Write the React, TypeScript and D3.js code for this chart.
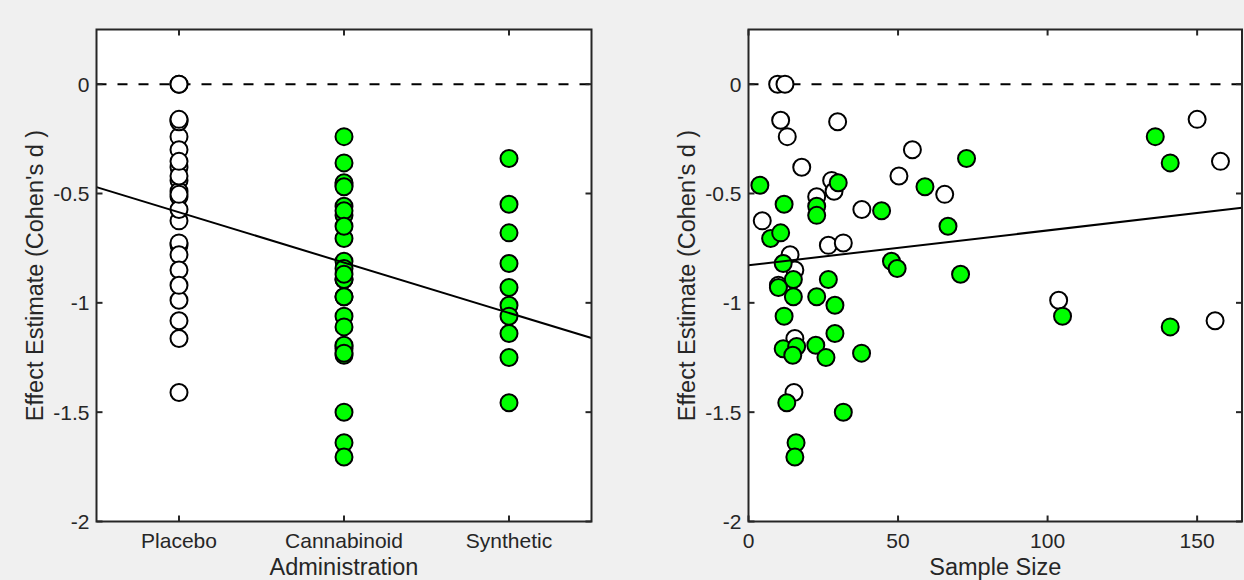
import React, { useEffect, useRef } from 'react';
import * as d3 from 'd3';

// groups on the left panel
const categories = ['Placebo', 'Cannabinoid', 'Synthetic'];
const yTicks = [0, -0.5, -1, -1.5, -2];
const yTickLabels = ['0', '-0.5', '-1', '-1.5', '-2'];
const sizeTicks = [0, 50, 100, 150];

// sample size / effect estimate per study
const placeboN = [9.75, 12.2, 10.75, 12.96, 29.8, 17.8, 4.6, 27.8, 28.6, 22.8, 37.9, 50.3, 26.7, 31.7, 13.9, 15.5, 15.5, 15.2, 54.8, 65.6, 103.7, 150, 157.8, 156, 10];
const placeboD = [0, 0, -0.165, -0.24, -0.172, -0.38, -0.625, -0.44, -0.49, -0.515, -0.573, -0.42, -0.737, -0.726, -0.78, -0.85, -1.163, -1.41, -0.3, -0.504, -0.988, -0.161, -0.353, -1.082, -0.92];

const cannabinoidN = [3.8, 30, 22.8, 22.8, 44.5, 7.4, 47.8, 49.7, 15, 15, 26.7, 22.8, 11.6, 16.1, 14.8, 22.5, 37.8, 31.7, 15.9, 15.5, 59, 66.7, 70.9, 105, 136, 141, 141];
const cannabinoidD = [-0.462, -0.451, -0.558, -0.6, -0.579, -0.706, -0.81, -0.843, -0.893, -0.972, -0.893, -0.972, -1.21, -1.2, -1.24, -1.194, -1.23, -1.5, -1.64, -1.705, -0.469, -0.65, -0.869, -1.061, -0.24, -0.36, -1.11];

const syntheticN = [11.9, 10.75, 11.6, 10, 28.9, 11.9, 28.9, 25.9, 12.8, 72.9];
const syntheticD = [-0.549, -0.68, -0.82, -0.93, -1.011, -1.061, -1.14, -1.25, -1.457, -0.34];

// least squares fits shown in the figure
const adminFit = { intercept: -0.356, slope: -0.23 };
const sizeFit = { intercept: -0.828, slope: 0.00159 };

const W = 1244;
const H = 580;
const FONT = '"Liberation Sans", Arial, Helvetica, sans-serif';
const AXIS_COLOR = '#262626';
const GREEN = '#00ff00';
const TICK_FS = 21;
const LABEL_FS = 23.5;

type Pt = { x: number; y: number; active: boolean };

const App = () => {
  const ref = useRef<SVGSVGElement>(null);

  useEffect(() => {
    const svg = d3.select(ref.current);
    svg.selectAll('*').remove();

    svg.append('rect').attr('width', W).attr('height', H).attr('fill', '#f0f0f0');

    const yScale = d3.scaleLinear().domain([-2, 0.25]).range([521.5, 29.5]);

    const drawPanel = (
      x: d3.ScaleLinear<number, number>,
      pts: Pt[],
      fit: { intercept: number; slope: number },
      xTicks: number[],
      xTickLabels: string[],
      xLabel: string,
      yLabelX: number
    ) => {
      const [x0, x1] = x.range();
      const [dMin, dMax] = x.domain();
      const g = svg.append('g');

      g.append('rect')
        .attr('x', x0)
        .attr('y', yScale(0.25))
        .attr('width', x1 - x0)
        .attr('height', yScale(-2) - yScale(0.25))
        .attr('fill', '#fff');

      // zero reference
      g.append('line')
        .attr('x1', x0)
        .attr('x2', x1)
        .attr('y1', yScale(0))
        .attr('y2', yScale(0))
        .attr('stroke', '#000')
        .attr('stroke-width', 2)
        .attr('stroke-dasharray', '10,11');

      const ordered = pts.filter((p) => !p.active).concat(pts.filter((p) => p.active));
      g.selectAll('circle.pt')
        .data(ordered)
        .enter()
        .append('circle')
        .attr('class', 'pt')
        .attr('cx', (d) => x(d.x))
        .attr('cy', (d) => yScale(d.y))
        .attr('r', 8.5)
        .attr('fill', (d) => (d.active ? GREEN : '#fff'))
        .attr('stroke', '#000')
        .attr('stroke-width', 2);

      // fit line across the whole axis
      const fitLine = d3
        .line<number>()
        .x((v) => x(v))
        .y((v) => yScale(fit.intercept + fit.slope * v));
      g.append('path')
        .datum([dMin, dMax])
        .attr('d', fitLine)
        .attr('fill', 'none')
        .attr('stroke', '#000')
        .attr('stroke-width', 2);

      // box + ticks (inside, on all four sides)
      const yTop = yScale(0.25);
      const yBot = yScale(-2);
      const tl = 6;
      g.append('rect')
        .attr('x', x0)
        .attr('y', yTop)
        .attr('width', x1 - x0)
        .attr('height', yBot - yTop)
        .attr('fill', 'none')
        .attr('stroke', AXIS_COLOR)
        .attr('stroke-width', 2);

      xTicks.forEach((t, i) => {
        const px = x(t);
        g.append('line').attr('x1', px).attr('x2', px).attr('y1', yBot).attr('y2', yBot - tl).attr('stroke', AXIS_COLOR).attr('stroke-width', 2);
        g.append('line').attr('x1', px).attr('x2', px).attr('y1', yTop).attr('y2', yTop + tl).attr('stroke', AXIS_COLOR).attr('stroke-width', 2);
        g.append('text')
          .attr('x', px)
          .attr('y', 548)
          .attr('text-anchor', 'middle')
          .attr('font-family', FONT)
          .attr('font-size', TICK_FS)
          .attr('fill', AXIS_COLOR)
          .text(xTickLabels[i]);
      });

      yTicks.forEach((t, i) => {
        const py = yScale(t);
        g.append('line').attr('x1', x0).attr('x2', x0 + tl).attr('y1', py).attr('y2', py).attr('stroke', AXIS_COLOR).attr('stroke-width', 2);
        g.append('line').attr('x1', x1).attr('x2', x1 - tl).attr('y1', py).attr('y2', py).attr('stroke', AXIS_COLOR).attr('stroke-width', 2);
        g.append('text')
          .attr('x', x0 - 7)
          .attr('y', py + 7.5)
          .attr('text-anchor', 'end')
          .attr('font-family', FONT)
          .attr('font-size', TICK_FS)
          .attr('fill', AXIS_COLOR)
          .text(yTickLabels[i]);
      });

      g.append('text')
        .attr('x', (x0 + x1) / 2)
        .attr('y', 575)
        .attr('text-anchor', 'middle')
        .attr('font-family', FONT)
        .attr('font-size', LABEL_FS)
        .attr('fill', AXIS_COLOR)
        .text(xLabel);

      g.append('text')
        .attr('transform', `translate(${yLabelX},${(yTop + yBot) / 2}) rotate(-90)`)
        .attr('text-anchor', 'middle')
        .attr('font-family', FONT)
        .attr('font-size', LABEL_FS)
        .attr('fill', AXIS_COLOR)
        .text("Effect Estimate (Cohen's d )");
    };

    // left: effect by administration type
    const xAdmin = d3.scaleLinear().domain([0.5, 3.5]).range([96.5, 591.5]);
    const adminPts: Pt[] = [
      ...placeboD.map((d) => ({ x: 1, y: d, active: false })),
      ...cannabinoidD.map((d) => ({ x: 2, y: d, active: true })),
      ...syntheticD.map((d) => ({ x: 3, y: d, active: true })),
    ];
    drawPanel(xAdmin, adminPts, adminFit, [1, 2, 3], categories, 'Administration', 43);

    // right: effect by sample size
    const xSize = d3.scaleLinear().domain([0, 165]).range([748.5, 1242]);
    const sizePts: Pt[] = [
      ...placeboN.map((n, i) => ({ x: n, y: placeboD[i], active: false })),
      ...cannabinoidN.map((n, i) => ({ x: n, y: cannabinoidD[i], active: true })),
      ...syntheticN.map((n, i) => ({ x: n, y: syntheticD[i], active: true })),
    ];
    drawPanel(xSize, sizePts, sizeFit, sizeTicks, sizeTicks.map(String), 'Sample Size', 695);
  }, []);

  return (
    <div style={{ width: W, height: H }}>
      <style>{'body{margin:0;}'}</style>
      <svg ref={ref} width={W} height={H} style={{ display: 'block' }} />
    </div>
  );
};

export default App;
